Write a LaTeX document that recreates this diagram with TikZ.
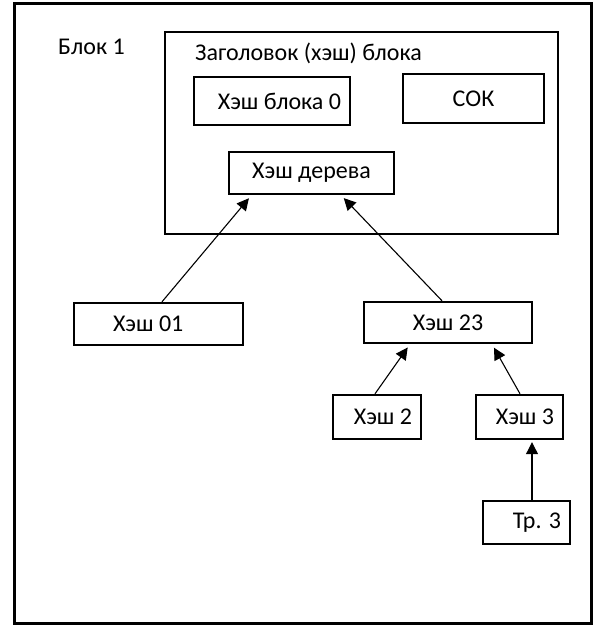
\documentclass[tikz,border=0pt]{standalone}
\usepackage{fontspec}
\setmainfont{Carlito}
\usetikzlibrary{arrows.meta,positioning}

\begin{document}
\begin{tikzpicture}[x=1pt,y=-1pt,
  txt/.style={font=\fontsize{24}{28}\selectfont,inner sep=0pt},
  box/.style={txt,draw,line width=2.4pt},
  rbox/.style={box,inner xsep=9pt,text width=#1,align=flush right},
  lbox/.style={box,inner xsep=39pt,text width=#1,align=flush left},
  arr/.style={-{Triangle[length=12pt,width=12pt]},line width=1.1pt,shorten >=4pt}]
\useasboundingbox (0,0) rectangle (597,628);
\draw[line width=3pt] (14,4) rectangle (591,623);
\node[txt,anchor=west] (blk) at (58,47) {Блок 1};
\node[draw,line width=2.4pt,minimum width=393pt,minimum height=202pt] (hdr) at (361.5,133) {};
\node[txt,anchor=west] (hdrtxt) at (195,53) {Заголовок (хэш) блока};
\node[rbox=138pt,minimum height=48pt] (h0) at (272,101) {Хэш блока 0};
\node[box,minimum width=141pt,minimum height=49pt] (sok) at (473.5,98.5) {СОК};
\node[box,minimum width=165pt,minimum height=42pt] (tree) at (311.5,173) {Хэш дерева};
\node[lbox=91pt,minimum height=42pt] (h01) at (158.5,324) {Хэш 01};
\node[box,minimum width=168pt,minimum height=41pt] (h23) at (448,322.5) {Хэш 23};
\node[rbox=70pt,minimum height=44pt] (h2) at (377,417) {Хэш 2};
\node[rbox=69pt,minimum height=44pt] (h3) at (519.5,417) {Хэш 3};
\node[rbox=69pt,minimum height=43pt] (tr3) at (526.5,522.5) {Тр. 3};
% arrows up the tree
\draw[arr] ([xshift=3.5pt]h01.north) -- ([xshift=-60pt]tree.south);
\draw[arr] ([xshift=-6pt]h23.north) -- ([xshift=29.5pt]tree.south);
\draw[arr] ([xshift=-2pt]h2.north) -- ([xshift=-38pt]h23.south);
\draw[arr] ([xshift=0.5pt]h3.north) -- ([xshift=44pt]h23.south);
\draw[arr,shorten >=2pt] ([xshift=5.5pt]tr3.north) -- ([xshift=12.5pt]h3.south);
\end{tikzpicture}
\end{document}
